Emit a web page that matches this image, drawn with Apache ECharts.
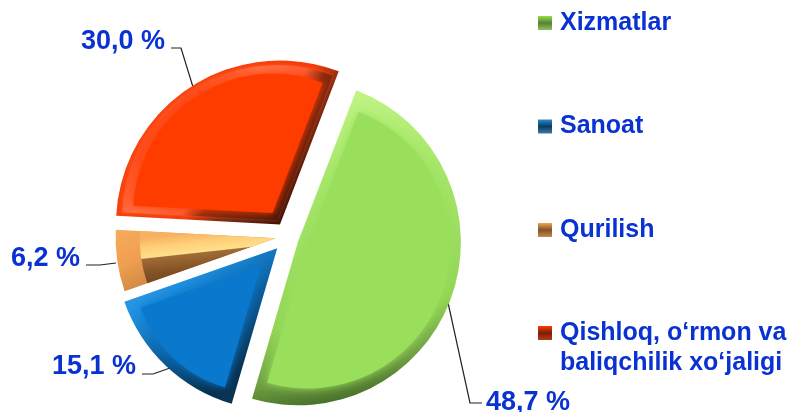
<!DOCTYPE html>
<html>
<head>
<meta charset="utf-8">
<title>Pie</title>
<script src="https://cdn.jsdelivr.net/npm/echarts@6/dist/echarts.min.js"></script>
<style>
html, body { margin: 0; padding: 0; background: #fff; }
#chart { width: 789px; height: 412px; }
</style>
</head>
<body>
<div id="chart"></div>
<script>
const categories = ['Xizmatlar', 'Sanoat', 'Qurilish', 'Qishloq, o‘rmon va\nbaliqchilik xo‘jaligi'];
const values = [48.7, 15.1, 6.2, 30.0];
const valueLabels = ['48,7 %', '15,1 %', '6,2 %', '30,0 %'];

const CENTER = [284.5, 237.5];
const RADIUS = 164;
const OFFSET = 12;
const START = 69;
const TEXT = '#0a32d2';
const FONT = '"Liberation Sans", Arial, sans-serif';

function grad(x, y, x2, y2, stops) {
    return {
        type: 'linear', x: x, y: y, x2: x2, y2: y2,
        colorStops: stops.map(s => ({ offset: s[0], color: s[1] }))
    };
}

// bevel shading per slice: base sector, then smaller sectors on top
// b = inset from every edge, arc = inset from the arc only, nudge/r = small per slice fit
const shading = [
    {
        nudge: [2, 1], r: 163,
        base: grad(0.2, 0, 0.5, 1, [[0, '#c4f688'], [0.3, '#a6e769'], [0.72, '#93d656'], [0.88, '#6f9f42'], [1, '#3f6623']]),
        layers: [{ b: 10, color: '#9adf5c', blur: 9 }],
        legend: grad(0, 0, 0, 1, [[0, '#8fe04d'], [0.5, '#5c7f36'], [1, '#8cc05c']])
    },
    {
        nudge: [1, 2], r: 162,
        base: grad(0.2, 0, 0.9, 1, [[0, '#3aa6ee'], [0.25, '#1c8cdc'], [0.5, '#0a5f9f'], [0.8, '#06304f'], [1, '#0f3a5c']]),
        layers: [{ b: 11, color: '#0a78cc', blur: 8 }],
        legend: grad(0, 0, 0, 1, [[0, '#2b8ad0'], [0.5, '#0a3c60'], [1, '#3a7cab']])
    },
    {
        nudge: [3, -1], r: 160,
        base: grad(0, 0, 0.2, 1, [[0, '#f8ab5c'], [0.5, '#ef9f50'], [1, '#c98544']]),
        layers: [{ arc: 24, color: grad(0.5, 0, 0.542, 1, [[0, '#f6b260'], [0.2, '#ffd07a'], [0.38, '#ffdf8a'], [0.4, '#a06c36'], [0.7, '#805024'], [1, '#704420']]), blur: 0 }],
        legend: grad(0, 0, 0, 1, [[0, '#f4a24e'], [0.5, '#7f5228'], [1, '#c48a50']])
    },
    {
        nudge: [2, -3], r: 164,
        base: grad(0, 0, 0.85, 1, [[0, '#ff4a14'], [0.62, '#f53c05'], [0.72, '#8a2a0c'], [1, '#2a0a02']]),
        layers: [{ b: 4, color: grad(0, 0, 0.85, 1, [[0, '#ff4412'], [0.3, '#ff4c1c'], [0.45, '#ff7044'], [0.6, '#ff5c30'], [0.67, '#8a2a0c'], [1, '#3a0f03']]), blur: 3 },
                 { b: 11, color: '#ff3c00', blur: 8 }],
        legend: grad(0, 0, 0, 1, [[0, '#ff3c00'], [0.5, '#7a1e06'], [1, '#b43a18']])
    }
];

// label text anchor and leader line for each slice
const labelPos = [[486, 403], [52, 367], [11, 259], [81, 42]];
const leaderPts = [
    [[447, 298], [470, 403], [482, 403]],
    [[170, 368], [153, 374], [142, 374]],
    [[116, 263], [100, 265], [86, 265]],
    [[193, 87], [181, 48], [171, 48]]
];

const total = values.reduce((a, b) => a + b, 0);

// one slice drawn alone: same angles as the full pie, the other items stay transparent
function slicePie(idx, inset, k, layer) {
    const s = shading[idx];
    return {
        type: 'pie',
        center: [CENTER[0] + s.nudge[0], CENTER[1] + s.nudge[1]],
        radius: [0, s.r - k - inset],
        startAngle: START,
        selectedMode: 'multiple',
        selectedOffset: OFFSET + k,
        animation: false,
        silent: true,
        label: { show: false },
        labelLine: { show: false },
        data: categories.map((name, i) => ({
            name: name,
            value: values[i],
            selected: i === idx,
            itemStyle: i === idx
                ? { color: layer.color, shadowBlur: layer.blur || 0, shadowColor: typeof layer.color === 'string' ? layer.color : 'rgba(255,255,255,0.2)' }
                : { color: 'transparent' }
        }))
    };
}

// apex pushed along the bisector by k so the sides stay parallel
const sliceSeries = [];
shading.forEach((s, idx) => {
    const half = values[idx] / total * Math.PI;
    sliceSeries.push(slicePie(idx, 0, 0, { color: s.base }));
    s.layers.forEach(layer => {
        const k = layer.b ? layer.b / Math.sin(half) : 0;
        sliceSeries.push(slicePie(idx, layer.b || layer.arc, k, layer));
    });
});

// labels sit on their own unselected pie, the select offset would move them otherwise
const labelSeries = {
    type: 'pie',
    center: CENTER,
    radius: [0, RADIUS],
    startAngle: START,
    animation: false,
    silent: true,
    avoidLabelOverlap: false,
    data: categories.map((name, i) => ({
        name: name,
        value: values[i],
        itemStyle: { color: 'transparent' }
    })),
    label: {
        show: true,
        formatter: p => valueLabels[p.dataIndex],
        color: TEXT,
        fontFamily: FONT,
        fontWeight: 'bold',
        fontSize: 27,
        overflow: 'none'
    },
    labelLine: { show: true, lineStyle: { color: '#222', width: 1.2 } },
    labelLayout: p => ({
        x: labelPos[p.dataIndex][0],
        y: labelPos[p.dataIndex][1],
        align: 'left',
        verticalAlign: 'middle',
        labelLinePoints: leaderPts[p.dataIndex]
    })
};

const legendText = { color: TEXT, fontFamily: FONT, fontWeight: 'bold', fontSize: 25, lineHeight: 30, padding: [0, 0, 0, 3] };

const option = {
    backgroundColor: '#fff',
    animation: false,
    legend: [
        {
            orient: 'vertical',
            left: 533,
            top: 3,
            itemWidth: 14,
            itemHeight: 14,
            itemGap: 73.5,
            selectedMode: false,
            textStyle: legendText,
            data: categories.slice(0, 3).map((name, i) => ({ name: name, icon: 'rect', itemStyle: { color: shading[i].legend } }))
        },
        {
            orient: 'vertical',
            left: 533,
            top: 283,
            itemWidth: 14,
            itemHeight: 14,
            selectedMode: false,
            textStyle: legendText,
            // blank first line keeps the marker level with the first text line
            formatter: name => '\n' + name,
            data: [{ name: categories[3], icon: 'rect', itemStyle: { color: shading[3].legend } }]
        }
    ],
    series: sliceSeries.concat([labelSeries])
};

const chart = echarts.init(document.getElementById('chart'), null, { renderer: 'canvas' });
chart.setOption(option);
</script>
</body>
</html>
